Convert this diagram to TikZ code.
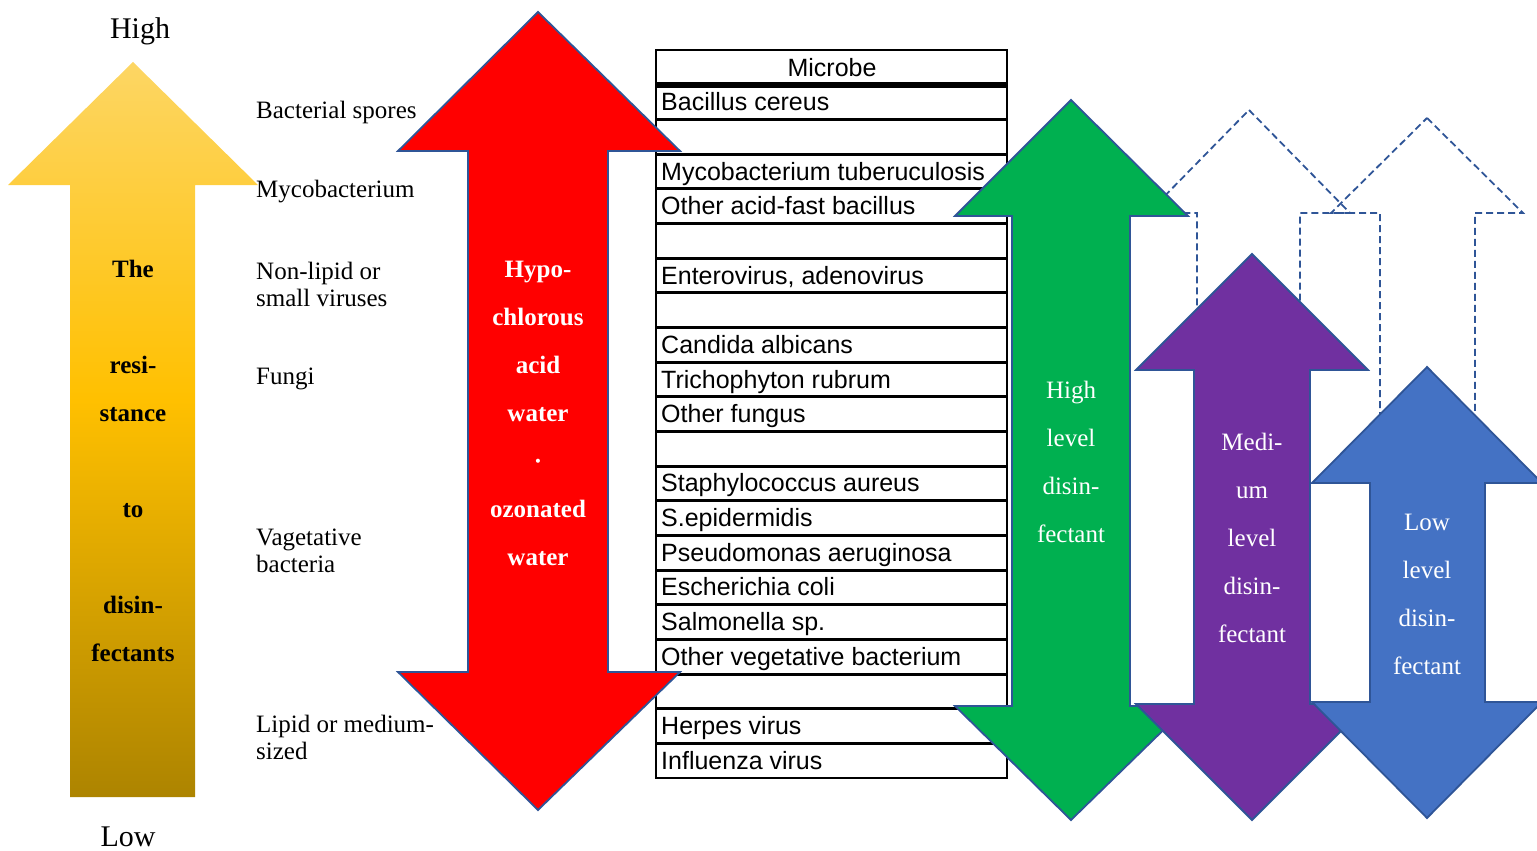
\documentclass[tikz,border=0pt]{standalone}
\usepackage{fontspec}
\setmainfont{Liberation Serif}
\setsansfont{Liberation Sans}
\definecolor{aline}{RGB}{47,85,151}
\definecolor{ytop}{RGB}{253,214,100}
\definecolor{ymid}{RGB}{255,192,0}
\definecolor{ybot}{RGB}{173,132,0}
\definecolor{gfill}{RGB}{0,176,80}
\definecolor{pfill}{RGB}{112,48,160}
\definecolor{bfill}{RGB}{68,114,196}
\pgfdeclareverticalshading{yshade}{100bp}{color(0bp)=(ybot); color(25bp)=(ybot); color(52bp)=(ymid); color(75bp)=(ytop); color(100bp)=(ytop)}
\begin{document}
\begin{tikzpicture}[x=1pt,y=-1pt,
  arrowshape/.style={draw=aline,line width=1.8pt,line join=miter},
  dashshape/.style={draw=aline,line width=1.8pt,dash pattern=on 7pt off 4pt},
  lbl/.style={anchor=west,inner sep=0pt,align=left,font=\fontsize{25}{27}\selectfont},
  endlbl/.style={inner sep=0pt,font=\fontsize{30}{32}\selectfont},
  intext/.style={inner sep=0pt,align=center,font=\fontsize{25}{48}\selectfont},
  rowtxt/.style={anchor=west,inner sep=0pt,text height=18pt,text depth=5pt,font=\sffamily\fontsize{25}{27}\selectfont},
  rowline/.style={line width=3pt}]
\useasboundingbox (0,0) rectangle (1537,851);
% yellow arrow
\shade[shading=yshade]
  (133,62) -- (258,185) -- (195,185) -- (195,797) -- (70,797) -- (70,185) -- (8,185) -- cycle;
\node[intext,font=\bfseries\fontsize{25}{48}\selectfont] (ytext) at (133,461) {The\\ \\resi-\\stance\\ \\to\\ \\disin-\\fectants};
\node[endlbl] (high) at (140,31) {High};
\node[endlbl] (low) at (128,837) {Low};
% left labels
\node[lbl] (l1) at (256,112) {Bacterial spores};
\node[lbl] (l2) at (256,192) {Mycobacterium};
\node[lbl] (l3) at (256,284) {Non-lipid or\\small viruses};
\node[lbl] (l4) at (256,379) {Fungi};
\node[lbl] (l5) at (256,551) {Vagetative\\bacteria};
\node[lbl] (l6) at (256,737) {Lipid or medium-\\sized};
% dashed arrows
\draw[dashshape] (1249,110) -- (1350,213) -- (1300,213) -- (1300,600) -- (1197,600) -- (1197,213) -- (1148,213) -- cycle;
\draw[dashshape] (1427,118) -- (1523,213) -- (1475,213) -- (1475,650) -- (1380,650) -- (1380,213) -- (1331,213) -- cycle;
% table
\draw[line width=2pt] (656,50) rectangle (1007,778);
\draw[line width=6pt] (656,85) -- (1007,85);
\foreach \i in {1,...,19} {\draw[rowline] (656,{85+\i*34.65}) -- (1007,{85+\i*34.65});}
\node[inner sep=0pt,text height=18pt,text depth=5pt,font=\sffamily\fontsize{25}{27}\selectfont] (hdr) at (832,70) {Microbe};
\foreach \i/\t in {1/Bacillus cereus,3/Mycobacterium tuberuculosis,4/Other acid-fast bacillus,6/{Enterovirus, adenovirus},8/Candida albicans,9/Trichophyton rubrum,10/Other fungus,12/Staphylococcus aureus,13/S.epidermidis,14/Pseudomonas aeruginosa,15/Escherichia coli,16/Salmonella sp.,17/Other vegetative bacterium,19/Herpes virus,20/Influenza virus}
  {\node[rowtxt] (r\i) at (661,{87+(\i-0.5)*34.65}) {\t};}
% red arrow
\fill[red,arrowshape] (538,12) -- (680,151) -- (608,151) -- (608,672) -- (680,672) -- (538,810) -- (398,672) -- (468,672) -- (468,151) -- (398,151) -- cycle;
\node[intext,text=white,font=\bfseries\fontsize{25}{48}\selectfont] (rtext) at (538,413) {Hypo-\\chlorous\\acid\\water\\\textperiodcentered\\ozonated\\water};
% green arrow
\fill[gfill,arrowshape] (1071,100) -- (1188,216) -- (1130,216) -- (1130,706) -- (1188,706) -- (1071,820) -- (955,706) -- (1012,706) -- (1012,216) -- (955,216) -- cycle;
\node[intext,text=white] (gtext) at (1071,462) {High\\level\\disin-\\fectant};
% purple arrow
\fill[pfill,arrowshape] (1252,254) -- (1368,370) -- (1310,370) -- (1310,704) -- (1368,704) -- (1252,820) -- (1136,704) -- (1194,704) -- (1194,370) -- (1136,370) -- cycle;
\node[intext,text=white] (ptext) at (1252,538) {Medi-\\um\\level\\disin-\\fectant};
% blue arrow
\fill[bfill,arrowshape] (1427,367) -- (1542,483) -- (1485,483) -- (1485,702) -- (1542,702) -- (1427,818) -- (1312,702) -- (1370,702) -- (1370,483) -- (1312,483) -- cycle;
\node[intext,text=white] (btext) at (1427,594) {Low\\level\\disin-\\fectant};
\end{tikzpicture}
\end{document}
